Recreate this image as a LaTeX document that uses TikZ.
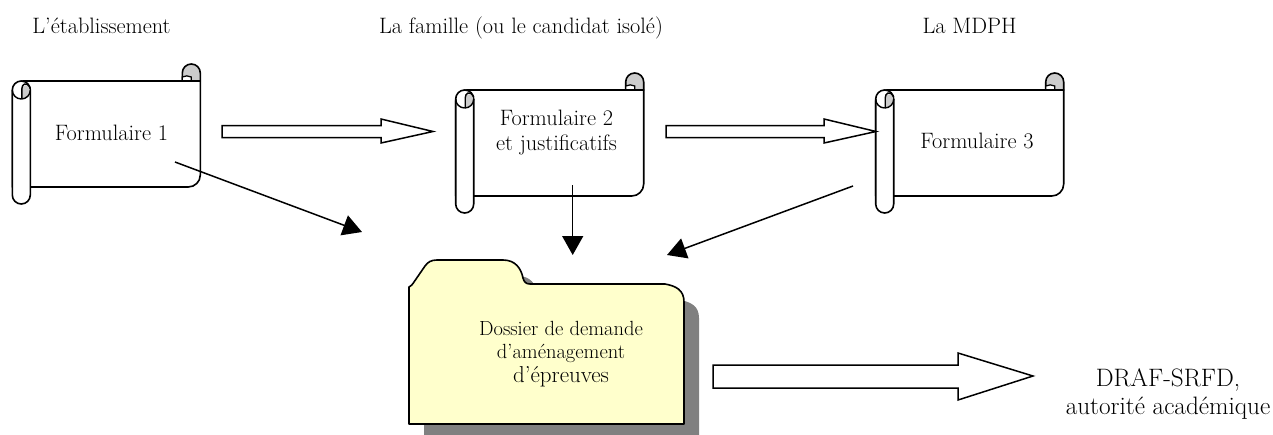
\documentclass[tikz,border=0pt]{standalone}
\usetikzlibrary{arrows.meta}
\tikzset{
  x=1pt,y=-1pt,
  txt/.style={font=\fontsize{22.3}{25}\selectfont,text=black,inner sep=0pt,align=center},
  scrollline/.style={draw=black,line width=1.6pt,line join=round},
  blockarrow/.style={draw=black,fill=white,line width=1.5pt,line join=miter},
  thinarrow/.style={draw=black,line width=1.5pt,-{Triangle[length=19pt,width=21pt,fill=black]}},
  scrollpic/.pic={
    % top right roll
    \path[scrollline,fill=black!20] (170,19) -- (170,11) arc[start angle=180,end angle=360,radius=9] -- (188,19) -- cycle;
    \path[draw=black,line width=1.3pt,fill=white] (170,19.5) -- (170,15) .. controls (173,13.5) and (176,13.5) .. (179,15) -- (179,19.5) -- cycle;
    % sheet
    \path[scrollline,fill=white] (0,30) arc[start angle=180,end angle=270,radius=11] -- (188,19) -- (188,113) arc[start angle=0,end angle=90,radius=12] -- (0,125) -- cycle;
    % left roll
    \path[scrollline,fill=white] (0,28) arc[start angle=180,end angle=360,radius=9] -- (18,133) arc[start angle=0,end angle=180,radius=9] -- cycle;
    \path[fill=black!20] (9.5,36.5) -- (9.5,27) .. controls (9.5,22) and (17,22) .. (17.5,28) .. controls (17.5,33) and (14,36.5) .. (9.5,36.5) -- cycle;
    \path[draw=black,line width=1.4pt] (9,37) .. controls (4,37) and (0,33) .. (0,28);
    \path[draw=black,line width=1.4pt] (9,37) .. controls (14,37) and (18,33) .. (18,28);
    \path[draw=black,line width=1.4pt] (9.5,37) -- (9.5,27) .. controls (9.5,22) and (14,19) .. (18,26);
  }
}
\begin{document}
\begin{tikzpicture}
\useasboundingbox (0,0) rectangle (1273,434);
% labels
\node[txt,anchor=base] (h1) at (101.5,33) {L’établissement};
\node[txt,anchor=base] (h2) at (521,33) {La famille (ou le candidat isolé)};
\node[txt,anchor=base] (h3) at (969.5,33) {La MDPH};
% scrolls
\pic at (12.3,62) {scrollpic};
\pic at (455.7,71) {scrollpic};
\pic at (875.7,71) {scrollpic};
\node[txt,anchor=base] (f1) at (111.5,140) {Formulaire 1};
\node[txt] (f2) at (556.5,133) {Formulaire 2\\et justificatifs};
\node[txt,anchor=base] (f3) at (977,148) {Formulaire 3};
% folder
\path[fill=black!50,shift={(15,16)}] (409,287) .. controls (411,286) and (412,285) .. (414,282) -- (425,266) .. controls (428,262) and (431,260) .. (437,260) -- (503,260) .. controls (515,260) and (521,268) .. (523,278) .. controls (524,282) and (526,284) .. (530,284) -- (665,284) .. controls (676,286) and (684,290) .. (684,302) -- (684,424) -- (409,424) -- cycle;
\path[draw=black,line width=1.6pt,fill={rgb,255:red,255;green,255;blue,204},line join=round] (409,287) .. controls (411,286) and (412,285) .. (414,282) -- (425,266) .. controls (428,262) and (431,260) .. (437,260) -- (503,260) .. controls (515,260) and (521,268) .. (523,278) .. controls (524,282) and (526,284) .. (530,284) -- (665,284) .. controls (676,286) and (684,290) .. (684,302) -- (684,424) -- (409,424) -- cycle;
\node[txt,font=\fontsize{20.5}{23}\selectfont] (d) at (561,354) {Dossier de demande\\d’aménagement\\[1pt]{\fontsize{23}{23}\selectfont d’épreuves}};
\node[txt,font=\fontsize{25.2}{28}\selectfont] (draf) at (1168,394) {DRAF-SRFD,\\autorité académique};
% block arrows
\path[blockarrow] (222,125.5) -- (381,125.5) -- (381,119) -- (433,131.5) -- (381,143) -- (381,137.5) -- (222,137.5) -- cycle;
\path[blockarrow] (666,125.5) -- (824,125.5) -- (824,119) -- (876,131.5) -- (824,143) -- (824,137.5) -- (666,137.5) -- cycle;
\path[blockarrow] (713,365) -- (958,365) -- (958,353) -- (1033,376) -- (958,400) -- (958,388) -- (713,388) -- cycle;
% thin arrows
\coordinate (a1s) at (175,162);
\coordinate (a1e) at (362,232);
\coordinate (a2s) at (572.7,185);
\coordinate (a2e) at (572.7,255);
\coordinate (a3s) at (853,186);
\coordinate (a3e) at (667,255);
\draw[thinarrow] (a1s) -- (a1e);
\draw[thinarrow] (a2s) -- (a2e);
\draw[thinarrow] (a3s) -- (a3e);
\end{tikzpicture}
\end{document}
